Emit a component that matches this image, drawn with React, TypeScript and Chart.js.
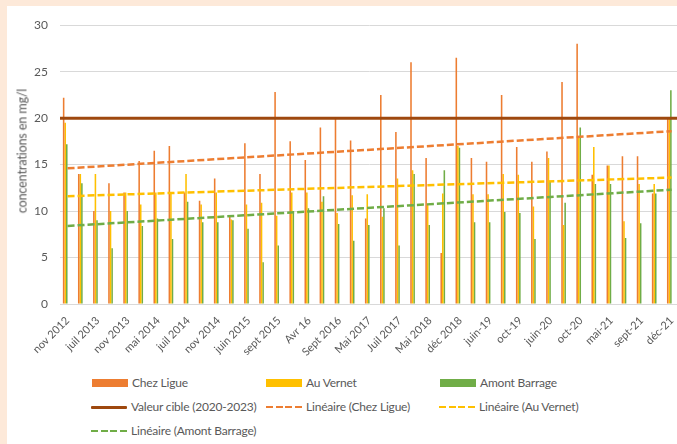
import React, { useEffect, useRef } from 'react';
import { Chart, registerables } from 'chart.js';

Chart.register(...registerables);

const categories = [
  'nov 2012', '', 'juil 2013', '', 'nov 2013', '', 'mai 2014', '', 'juil 2014', '',
  'nov 2014', '', 'juin 2015', '', 'sept 2015', '', 'Avr 16', '', 'Sept 2016', '',
  'Mai 2017', '', 'Juil 2017', '', 'Mai 2018', '', 'déc 2018', '', 'juin-19', '',
  'oct-19', '', 'juin-20', '', 'oct-20', '', 'mai-21', '', 'sept-21', '', 'déc-21',
];

const chezLigue = [
  22.2, 14, 10, 13, 12, 15.4, 16.5, 17, 12, 11.1, 13.5, 9.4, 17.3, 14, 22.8, 17.5, 15.5, 19, 19.9, 17.6,
  9.2, 22.5, 18.5, 26, 15.7, 5.5, 26.5, 15.7, 15.3, 22.5, 16.9, 15.3, 16.4, 23.9, 28, 13.9, 14.9, 15.9, 15.9, 11.9, 20,
];
const auVernet = [
  19.5, 14, 14, 10, 12, 10.7, 12, 12, 14, 10.7, 12, 9.1, 10.7, 10.9, 9.5, 12, 12, 11, 9.8, 11.7,
  11.8, 9.4, 13.5, 14.4, 10.7, 11.9, 17, 11.8, 11.8, 14, 13.9, 10.5, 15.7, 8.5, 18, 16.9, 14.9, 8.9, 12.9, 12.9, 20,
];
const amontBarrage = [
  17.2, 13, 9, 6, 10, 8.4, 9.2, 7, 11, 8.8, 8.8, 9, 8.1, 4.5, 6.3, 10, 10.3, 11.6, 8.6, 6.8,
  8.5, 10.3, 6.3, 14, 8.5, 14.4, 16.8, 8.8, 8.8, 9.9, 9.8, 7, 13.2, 10.9, 19, 12.9, 12.9, 7.1, 8.7, 11.9, 23,
];

// trend line endpoints (start, end)
const trendChez = [14.6, 18.6];
const trendVernet = [11.6, 13.6];
const trendAmont = [8.4, 12.3];
const targetValue = 20;

const yTicks = [0, 5, 10, 15, 20, 25, 30];

const ORANGE = '#ED7D31';
const YELLOW = '#FFC000';
const GREEN = '#70AD47';
const BROWN = '#9E480E';
const TEXT = '#595959';
const FONT = 'Lato, "Open Sans", sans-serif';

function endpoints(pair: number[]) {
  return categories.map((_, i) => (i === 0 ? pair[0] : i === categories.length - 1 ? pair[1] : null));
}

type LegendItem = { label: string; color: string; kind: 'box' | 'solid' | 'dash'; left: number; top: number };

const legendItems: LegendItem[] = [
  { label: 'Chez Ligue', color: ORANGE, kind: 'box', left: 85, top: 371 },
  { label: 'Au Vernet', color: YELLOW, kind: 'box', left: 259, top: 371 },
  { label: 'Amont Barrage', color: GREEN, kind: 'box', left: 433, top: 371 },
  { label: 'Valeur cible (2020-2023)', color: BROWN, kind: 'solid', left: 84, top: 395 },
  { label: 'Linéaire (Chez Ligue)', color: ORANGE, kind: 'dash', left: 259, top: 395 },
  { label: 'Linéaire (Au Vernet)', color: YELLOW, kind: 'dash', left: 432, top: 395 },
  { label: 'Linéaire (Amont Barrage)', color: GREEN, kind: 'dash', left: 84, top: 419 },
];

function Sample({ item }: { item: LegendItem }) {
  const base: React.CSSProperties = { position: 'absolute', left: 0, width: 36 };
  if (item.kind === 'box') {
    return <div style={{ ...base, top: 2, height: 8, background: item.color }} />;
  }
  if (item.kind === 'solid') {
    return <div style={{ ...base, top: 4.5, height: 3, background: item.color, borderRadius: 1 }} />;
  }
  return (
    <div
      style={{
        ...base,
        top: 4.5,
        height: 2.5,
        background: `repeating-linear-gradient(to right, ${item.color} 0px, ${item.color} 7px, transparent 7px, transparent 9.7px)`,
      }}
    />
  );
}

export default function App() {
  const canvasRef = useRef<HTMLCanvasElement | null>(null);

  useEffect(() => {
    if (!canvasRef.current) return;
    const chart = new Chart(canvasRef.current, {
      type: 'bar',
      data: {
        labels: categories,
        datasets: [
          { type: 'bar', label: 'Chez Ligue', data: chezLigue, backgroundColor: ORANGE, order: 2 },
          { type: 'bar', label: 'Au Vernet', data: auVernet, backgroundColor: YELLOW, order: 2 },
          { type: 'bar', label: 'Amont Barrage', data: amontBarrage, backgroundColor: GREEN, order: 2 },
          {
            type: 'line',
            label: 'Valeur cible (2020-2023)',
            data: [
              { x: 0, y: targetValue },
              { x: 1, y: targetValue },
            ],
            xAxisID: 'x2',
            borderColor: BROWN,
            borderWidth: 3,
            pointRadius: 0,
            order: 1,
          },
          {
            type: 'line',
            label: 'Linéaire (Chez Ligue)',
            data: endpoints(trendChez),
            spanGaps: true,
            borderColor: ORANGE,
            borderWidth: 2.5,
            borderDash: [7, 3],
            pointRadius: 0,
            order: 1,
          },
          {
            type: 'line',
            label: 'Linéaire (Au Vernet)',
            data: endpoints(trendVernet),
            spanGaps: true,
            borderColor: YELLOW,
            borderWidth: 2.5,
            borderDash: [7, 3],
            pointRadius: 0,
            order: 1,
          },
          {
            type: 'line',
            label: 'Linéaire (Amont Barrage)',
            data: endpoints(trendAmont),
            spanGaps: true,
            borderColor: GREEN,
            borderWidth: 2.5,
            borderDash: [7, 3],
            pointRadius: 0,
            order: 1,
          },
        ] as any,
      },
      options: {
        animation: false,
        responsive: false,
        layout: { padding: { top: 17, right: 2, left: 0, bottom: 0 } },
        datasets: { bar: { barPercentage: 1, categoryPercentage: 0.62 } } as any,
        plugins: { legend: { display: false }, tooltip: { enabled: false } },
        scales: {
          x: {
            type: 'category',
            grid: { display: false },
            border: { display: false },
            ticks: {
              autoSkip: false,
              minRotation: 45,
              maxRotation: 45,
              color: TEXT,
              padding: 2,
              font: { family: FONT, size: 11 },
            },
            afterFit: (axis: any) => {
              axis.height = 64;
            },
          },
          x2: {
            type: 'linear',
            min: 0,
            max: 1,
            offset: false,
            display: false,
          },
          y: {
            min: 0,
            max: 30,
            afterBuildTicks: (axis: any) => {
              axis.ticks = yTicks.map((v) => ({ value: v }));
            },
            grid: { color: '#D9D9D9', lineWidth: 1, drawTicks: false },
            border: { display: false },
            ticks: { color: TEXT, padding: 12, font: { family: FONT, size: 12 } },
            afterFit: (axis: any) => {
              axis.width = 53;
            },
          },
        },
      },
    });
    return () => chart.destroy();
  }, []);

  return (
    <div style={{ position: 'fixed', inset: 0, background: '#FDE9D9', overflow: 'hidden', fontFamily: FONT }}>
      <div style={{ position: 'absolute', left: 7, top: 6, right: 0, bottom: 0, background: '#FFFFFF', overflow: 'hidden' }}>
        <canvas ref={canvasRef} width={676} height={362} style={{ position: 'absolute', left: 0, top: 0, width: 676, height: 362 }} />
        <div
          style={{
            position: 'absolute',
            left: 15,
            top: 145,
            transform: 'translate(-50%, -50%) rotate(-90deg)',
            whiteSpace: 'nowrap',
            color: TEXT,
            fontSize: 12.5,
            letterSpacing: -0.1,
          }}
        >
          concentrations en mg/l
        </div>
        {legendItems.map((item) => (
          <div key={item.label} style={{ position: 'absolute', left: item.left, top: item.top, height: 14, whiteSpace: 'nowrap' }}>
            <Sample item={item} />
            <span
              style={{
                position: 'absolute',
                left: 40,
                top: -2,
                color: TEXT,
                fontSize: 12,
                letterSpacing: -0.2,
                lineHeight: '16px',
              }}
            >
              {item.label}
            </span>
          </div>
        ))}
      </div>
    </div>
  );
}
